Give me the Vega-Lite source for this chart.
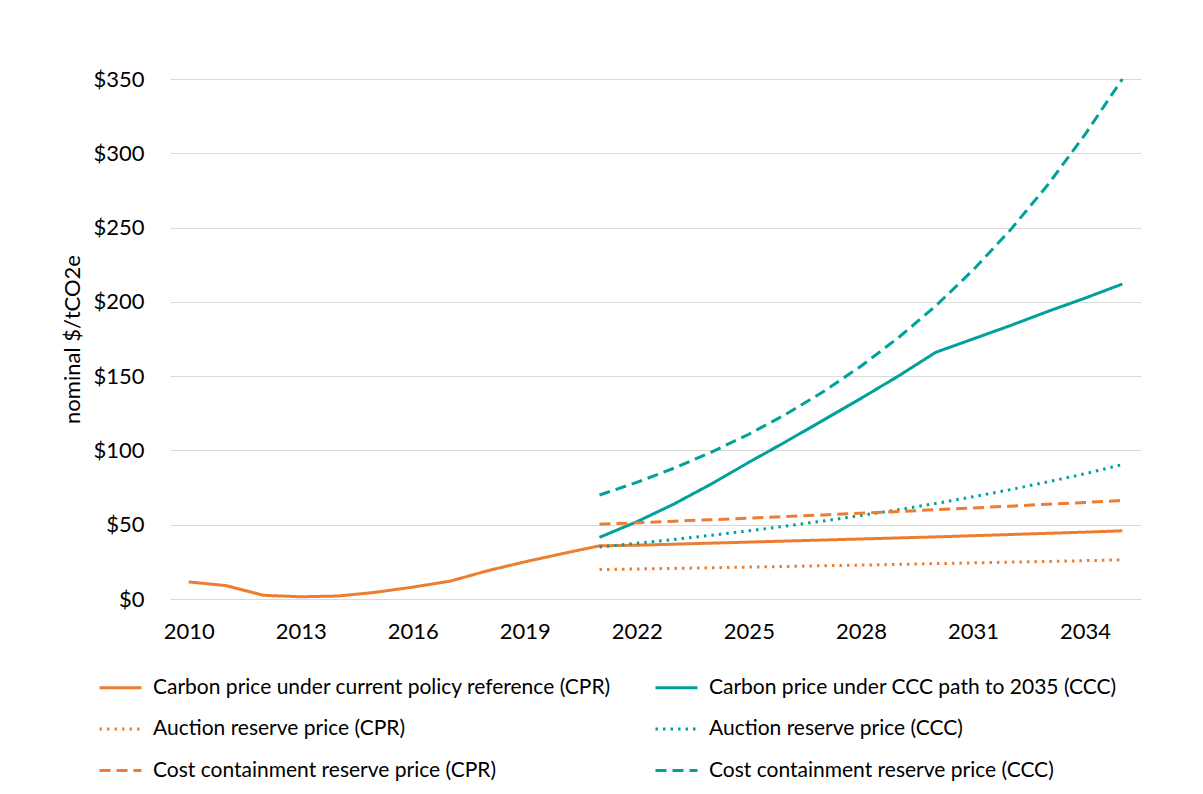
{
  "$schema": "https://vega.github.io/schema/vega-lite/v6.json",
  "width": 971,
  "height": 520,
  "autosize": {"type": "none"},
  "padding": {"left": 170, "top": 79, "right": 62, "bottom": 195},
  "background": "white",
  "config": {
    "font": "Lato",
    "view": {"stroke": null},
    "axis": {"labelFont": "Lato", "titleFont": "Lato", "labelColor": "#000000", "titleColor": "#000000"}
  },
  "data": {
    "values": [
      {"year": 2010, "series": "Carbon price under current policy reference (CPR)", "price": 11.5},
      {"year": 2011, "series": "Carbon price under current policy reference (CPR)", "price": 9},
      {"year": 2012, "series": "Carbon price under current policy reference (CPR)", "price": 2.5},
      {"year": 2013, "series": "Carbon price under current policy reference (CPR)", "price": 1.5},
      {"year": 2014, "series": "Carbon price under current policy reference (CPR)", "price": 2},
      {"year": 2015, "series": "Carbon price under current policy reference (CPR)", "price": 4.5},
      {"year": 2016, "series": "Carbon price under current policy reference (CPR)", "price": 8},
      {"year": 2017, "series": "Carbon price under current policy reference (CPR)", "price": 12},
      {"year": 2018, "series": "Carbon price under current policy reference (CPR)", "price": 19},
      {"year": 2019, "series": "Carbon price under current policy reference (CPR)", "price": 25},
      {"year": 2020, "series": "Carbon price under current policy reference (CPR)", "price": 30.5},
      {"year": 2021, "series": "Carbon price under current policy reference (CPR)", "price": 35.8},
      {"year": 2022, "series": "Carbon price under current policy reference (CPR)", "price": 36.2},
      {"year": 2023, "series": "Carbon price under current policy reference (CPR)", "price": 36.9},
      {"year": 2024, "series": "Carbon price under current policy reference (CPR)", "price": 37.6},
      {"year": 2025, "series": "Carbon price under current policy reference (CPR)", "price": 38.3},
      {"year": 2026, "series": "Carbon price under current policy reference (CPR)", "price": 39},
      {"year": 2027, "series": "Carbon price under current policy reference (CPR)", "price": 39.7},
      {"year": 2028, "series": "Carbon price under current policy reference (CPR)", "price": 40.4},
      {"year": 2029, "series": "Carbon price under current policy reference (CPR)", "price": 41.1},
      {"year": 2030, "series": "Carbon price under current policy reference (CPR)", "price": 41.8},
      {"year": 2031, "series": "Carbon price under current policy reference (CPR)", "price": 42.6},
      {"year": 2032, "series": "Carbon price under current policy reference (CPR)", "price": 43.4},
      {"year": 2033, "series": "Carbon price under current policy reference (CPR)", "price": 44.2},
      {"year": 2034, "series": "Carbon price under current policy reference (CPR)", "price": 45},
      {"year": 2035, "series": "Carbon price under current policy reference (CPR)", "price": 45.9},

      {"year": 2021, "series": "Carbon price under CCC path to 2035 (CCC)", "price": 41.5},
      {"year": 2022, "series": "Carbon price under CCC path to 2035 (CCC)", "price": 52},
      {"year": 2023, "series": "Carbon price under CCC path to 2035 (CCC)", "price": 64},
      {"year": 2024, "series": "Carbon price under CCC path to 2035 (CCC)", "price": 77.5},
      {"year": 2025, "series": "Carbon price under CCC path to 2035 (CCC)", "price": 92},
      {"year": 2026, "series": "Carbon price under CCC path to 2035 (CCC)", "price": 106},
      {"year": 2027, "series": "Carbon price under CCC path to 2035 (CCC)", "price": 120.5},
      {"year": 2028, "series": "Carbon price under CCC path to 2035 (CCC)", "price": 135},
      {"year": 2029, "series": "Carbon price under CCC path to 2035 (CCC)", "price": 150},
      {"year": 2030, "series": "Carbon price under CCC path to 2035 (CCC)", "price": 166},
      {"year": 2031, "series": "Carbon price under CCC path to 2035 (CCC)", "price": 175},
      {"year": 2032, "series": "Carbon price under CCC path to 2035 (CCC)", "price": 184},
      {"year": 2033, "series": "Carbon price under CCC path to 2035 (CCC)", "price": 193.5},
      {"year": 2034, "series": "Carbon price under CCC path to 2035 (CCC)", "price": 202.5},
      {"year": 2035, "series": "Carbon price under CCC path to 2035 (CCC)", "price": 212},

      {"year": 2021, "series": "Auction reserve price (CPR)", "price": 19.8},
      {"year": 2022, "series": "Auction reserve price (CPR)", "price": 20.2},
      {"year": 2023, "series": "Auction reserve price (CPR)", "price": 20.6},
      {"year": 2024, "series": "Auction reserve price (CPR)", "price": 21},
      {"year": 2025, "series": "Auction reserve price (CPR)", "price": 21.5},
      {"year": 2026, "series": "Auction reserve price (CPR)", "price": 21.9},
      {"year": 2027, "series": "Auction reserve price (CPR)", "price": 22.4},
      {"year": 2028, "series": "Auction reserve price (CPR)", "price": 22.8},
      {"year": 2029, "series": "Auction reserve price (CPR)", "price": 23.3},
      {"year": 2030, "series": "Auction reserve price (CPR)", "price": 23.8},
      {"year": 2031, "series": "Auction reserve price (CPR)", "price": 24.3},
      {"year": 2032, "series": "Auction reserve price (CPR)", "price": 24.8},
      {"year": 2033, "series": "Auction reserve price (CPR)", "price": 25.3},
      {"year": 2034, "series": "Auction reserve price (CPR)", "price": 25.8},
      {"year": 2035, "series": "Auction reserve price (CPR)", "price": 26.4},

      {"year": 2021, "series": "Auction reserve price (CCC)", "price": 35},
      {"year": 2022, "series": "Auction reserve price (CCC)", "price": 37.5},
      {"year": 2023, "series": "Auction reserve price (CCC)", "price": 40.1},
      {"year": 2024, "series": "Auction reserve price (CCC)", "price": 42.9},
      {"year": 2025, "series": "Auction reserve price (CCC)", "price": 45.9},
      {"year": 2026, "series": "Auction reserve price (CCC)", "price": 49.1},
      {"year": 2027, "series": "Auction reserve price (CCC)", "price": 52.5},
      {"year": 2028, "series": "Auction reserve price (CCC)", "price": 56.2},
      {"year": 2029, "series": "Auction reserve price (CCC)", "price": 60.1},
      {"year": 2030, "series": "Auction reserve price (CCC)", "price": 64.3},
      {"year": 2031, "series": "Auction reserve price (CCC)", "price": 68.8},
      {"year": 2032, "series": "Auction reserve price (CCC)", "price": 73.6},
      {"year": 2033, "series": "Auction reserve price (CCC)", "price": 78.8},
      {"year": 2034, "series": "Auction reserve price (CCC)", "price": 84.3},
      {"year": 2035, "series": "Auction reserve price (CCC)", "price": 90.5},

      {"year": 2021, "series": "Cost containment reserve price (CPR)", "price": 50.3},
      {"year": 2022, "series": "Cost containment reserve price (CPR)", "price": 51.3},
      {"year": 2023, "series": "Cost containment reserve price (CPR)", "price": 52.3},
      {"year": 2024, "series": "Cost containment reserve price (CPR)", "price": 53.4},
      {"year": 2025, "series": "Cost containment reserve price (CPR)", "price": 54.4},
      {"year": 2026, "series": "Cost containment reserve price (CPR)", "price": 55.5},
      {"year": 2027, "series": "Cost containment reserve price (CPR)", "price": 56.6},
      {"year": 2028, "series": "Cost containment reserve price (CPR)", "price": 57.8},
      {"year": 2029, "series": "Cost containment reserve price (CPR)", "price": 58.9},
      {"year": 2030, "series": "Cost containment reserve price (CPR)", "price": 60.1},
      {"year": 2031, "series": "Cost containment reserve price (CPR)", "price": 61.3},
      {"year": 2032, "series": "Cost containment reserve price (CPR)", "price": 62.5},
      {"year": 2033, "series": "Cost containment reserve price (CPR)", "price": 63.8},
      {"year": 2034, "series": "Cost containment reserve price (CPR)", "price": 65},
      {"year": 2035, "series": "Cost containment reserve price (CPR)", "price": 66.3},

      {"year": 2021, "series": "Cost containment reserve price (CCC)", "price": 70},
      {"year": 2022, "series": "Cost containment reserve price (CCC)", "price": 78.5},
      {"year": 2023, "series": "Cost containment reserve price (CCC)", "price": 88.1},
      {"year": 2024, "series": "Cost containment reserve price (CCC)", "price": 98.9},
      {"year": 2025, "series": "Cost containment reserve price (CCC)", "price": 110.9},
      {"year": 2026, "series": "Cost containment reserve price (CCC)", "price": 124.5},
      {"year": 2027, "series": "Cost containment reserve price (CCC)", "price": 139.6},
      {"year": 2028, "series": "Cost containment reserve price (CCC)", "price": 156.7},
      {"year": 2029, "series": "Cost containment reserve price (CCC)", "price": 175.8},
      {"year": 2030, "series": "Cost containment reserve price (CCC)", "price": 197.2},
      {"year": 2031, "series": "Cost containment reserve price (CCC)", "price": 221.3},
      {"year": 2032, "series": "Cost containment reserve price (CCC)", "price": 248.3},
      {"year": 2033, "series": "Cost containment reserve price (CCC)", "price": 278.6},
      {"year": 2034, "series": "Cost containment reserve price (CCC)", "price": 312.6},
      {"year": 2035, "series": "Cost containment reserve price (CCC)", "price": 350}
    ]
  },
  "mark": {"type": "line", "strokeWidth": 3, "interpolate": "linear"},
  "encoding": {
    "x": {
      "field": "year",
      "type": "ordinal",
      "scale": {"type": "point", "padding": 0.5},
      "axis": {
        "title": null,
        "values": [2010, 2013, 2016, 2019, 2022, 2025, 2028, 2031, 2034],
        "labelAngle": 0,
        "labelFontSize": 22,
        "labelPadding": 22,
        "ticks": false,
        "domain": false,
        "grid": false
      }
    },
    "y": {
      "field": "price",
      "type": "quantitative",
      "scale": {"domain": [0, 350], "nice": false},
      "axis": {
        "title": "nominal $/tCO2e",
        "titleFontSize": 22,
        "titleFontWeight": "normal",
        "titlePadding": 8,
        "values": [0, 50, 100, 150, 200, 250, 300, 350],
        "labelExpr": "'$' + datum.value",
        "labelFontSize": 22,
        "labelPadding": 26,
        "ticks": false,
        "domain": false,
        "grid": true,
        "gridColor": "#D9D9D9",
        "gridWidth": 1
      }
    },
    "color": {
      "field": "series",
      "type": "nominal",
      "sort": null,
      "scale": {
        "domain": [
          "Carbon price under current policy reference (CPR)",
          "Carbon price under CCC path to 2035 (CCC)",
          "Auction reserve price (CPR)",
          "Auction reserve price (CCC)",
          "Cost containment reserve price (CPR)",
          "Cost containment reserve price (CCC)"
        ],
        "range": ["#ED7D31", "#00A19A", "#ED7D31", "#00A19A", "#ED7D31", "#00A19A"]
      },
      "legend": {
        "title": null,
        "orient": "none",
        "legendX": -72,
        "legendY": 586,
        "direction": "horizontal",
        "columns": 2,
        "columnPadding": 37,
        "rowPadding": 8.5,
        "symbolType": "stroke",
        "symbolSize": 1764,
        "symbolStrokeWidth": 3,
        "labelFontSize": 21,
        "labelFont": "Lato",
        "labelColor": "#000000",
        "labelOffset": 10,
        "labelLimit": 700
      }
    },
    "strokeDash": {
      "field": "series",
      "type": "nominal",
      "sort": null,
      "scale": {
        "domain": [
          "Carbon price under current policy reference (CPR)",
          "Carbon price under CCC path to 2035 (CCC)",
          "Auction reserve price (CPR)",
          "Auction reserve price (CCC)",
          "Cost containment reserve price (CPR)",
          "Cost containment reserve price (CCC)"
        ],
        "range": [[1, 0], [1, 0], [2.5, 5], [2.5, 5], [11, 6], [11, 6]]
      }
    }
  }
}
